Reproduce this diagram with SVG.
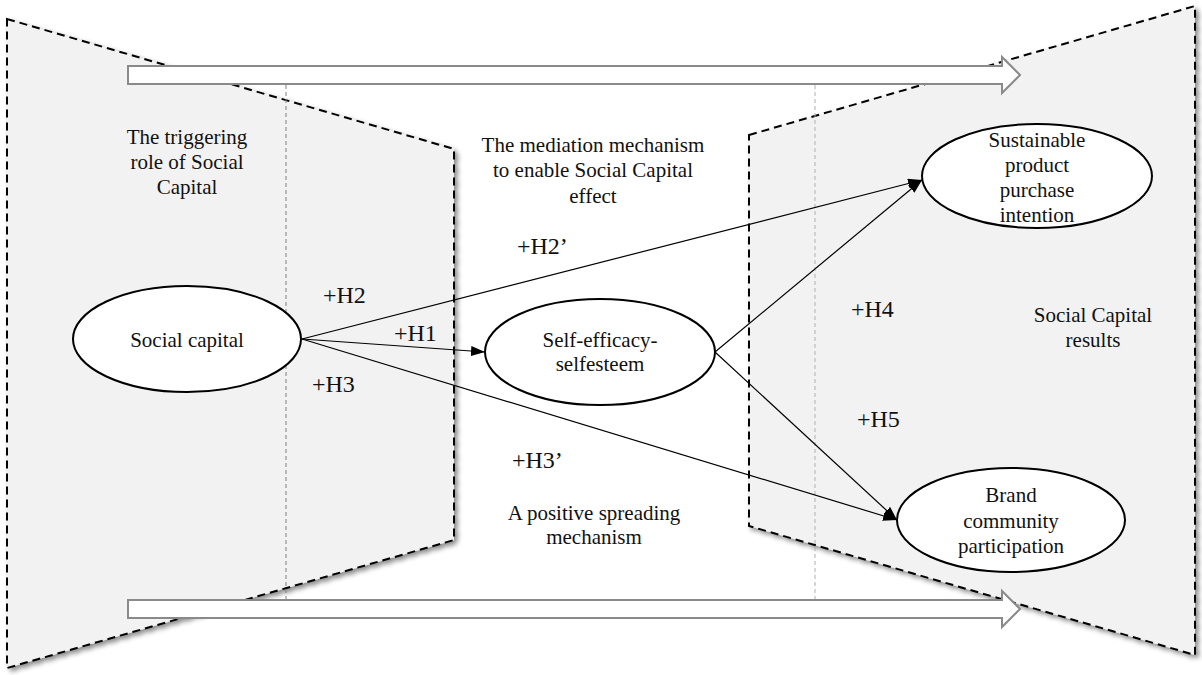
<svg xmlns="http://www.w3.org/2000/svg" width="1202" height="675" viewBox="0 0 1202 675">
<defs>
<filter id="shadow" x="-10%" y="-10%" width="120%" height="120%">
<feDropShadow dx="3" dy="3" stdDeviation="2.5" flood-color="#000" flood-opacity="0.45"/>
</filter>
<marker id="ah" markerUnits="userSpaceOnUse" markerWidth="14" markerHeight="10" refX="14" refY="5" orient="auto">
<path d="M0,0 L14,5 L0,10 Z" fill="#000"/>
</marker>
<style>
.panel{fill:#f2f2f2;stroke:#000;stroke-width:2;stroke-dasharray:8,5;filter:url(#shadow)}
.guide{fill:none;stroke-width:1;stroke-dasharray:4,3}
.block{fill:#fff;stroke:#8a8a8a;stroke-width:2}
.conn{fill:none;stroke:#000;stroke-width:1.2;marker-end:url(#ah)}
.node{fill:#fff;stroke:#000;stroke-width:2}
text{font-family:"Liberation Serif","Times New Roman",serif;fill:#111;text-anchor:middle}
.t{font-size:21px}
.h{font-size:24px;text-anchor:start}
</style>
</defs>
<g id="panels">
<polygon class="panel" points="7,19 454,149 454,540 7,668"/>
<polygon class="panel" points="749,135 1195,6 1195,655 749,526"/>
</g>
<g id="guides">
<line class="guide" x1="286" y1="85" x2="286" y2="600" stroke="#7f7f7f"/>
<line class="guide" x1="815" y1="85" x2="815" y2="600" stroke="#b0b0b0"/>
</g>
<g id="flow-arrows">
<path class="block" d="M128,66 H1002 V57 L1020,75 L1002,93 V84 H128 Z"/>
<path class="block" d="M128,600 H1002 V591 L1020,609 L1002,627 V618 H128 Z"/>
</g>
<g id="section-labels">
<text class="t" x="187" y="144">The triggering</text>
<text class="t" x="187" y="169">role of Social</text>
<text class="t" x="187" y="194">Capital</text>
<text class="t" x="593" y="152">The mediation mechanism</text>
<text class="t" x="593" y="177">to enable Social Capital</text>
<text class="t" x="593" y="203">effect</text>
<text class="t" x="594" y="520">A positive spreading</text>
<text class="t" x="594" y="544">mechanism</text>
<text class="t" x="1093" y="322">Social Capital</text>
<text class="t" x="1093" y="347">results</text>
</g>
<g id="connectors">
<line class="conn" x1="302" y1="339" x2="485" y2="352"/>
<line class="conn" x1="302" y1="339" x2="922" y2="180"/>
<line class="conn" x1="302" y1="339" x2="897" y2="520"/>
<line class="conn" x1="715" y1="352" x2="922" y2="180"/>
<line class="conn" x1="715" y1="352" x2="897" y2="520"/>
</g>
<g id="hypothesis-labels">
<text class="h" x="323" y="303">+H2</text>
<text class="h" x="394" y="341">+H1</text>
<text class="h" x="312" y="392">+H3</text>
<text class="h" x="517" y="254">+H2’</text>
<text class="h" x="512" y="468">+H3’</text>
<text class="h" x="851" y="317">+H4</text>
<text class="h" x="857" y="427">+H5</text>
</g>
<g id="node-social-capital">
<ellipse class="node" cx="187" cy="339" rx="114" ry="53"/>
<text class="t" x="187" y="347">Social capital</text>
</g>
<g id="node-self-efficacy">
<ellipse class="node" cx="600" cy="352" rx="115" ry="53"/>
<text class="t" x="600" y="347">Self-efficacy-</text>
<text class="t" x="600" y="371">selfesteem</text>
</g>
<g id="node-sustainable">
<ellipse class="node" cx="1037" cy="176" rx="115" ry="52"/>
<text class="t" x="1037" y="147">Sustainable</text>
<text class="t" x="1037" y="172">product</text>
<text class="t" x="1037" y="197">purchase</text>
<text class="t" x="1037" y="222">intention</text>
</g>
<g id="node-brand">
<ellipse class="node" cx="1011" cy="520" rx="114" ry="52"/>
<text class="t" x="1011" y="502">Brand</text>
<text class="t" x="1011" y="528">community</text>
<text class="t" x="1011" y="553">participation</text>
</g>
</svg>
